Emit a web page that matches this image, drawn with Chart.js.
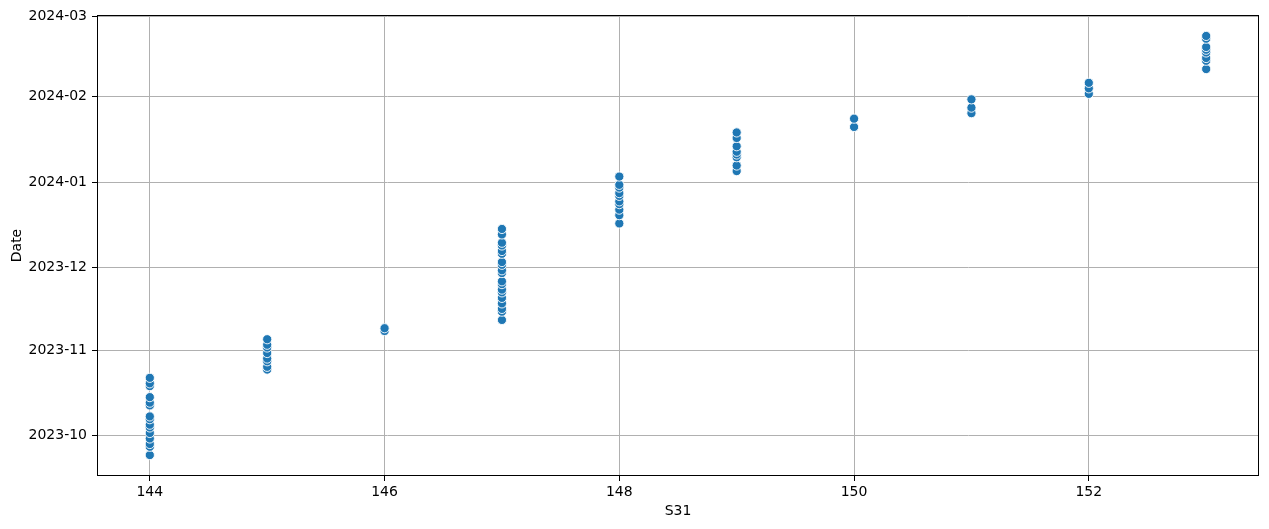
<!DOCTYPE html>
<html>
<head>
<meta charset="utf-8">
<script src="https://cdn.jsdelivr.net/npm/chart.js@4.4.1/dist/chart.umd.min.js"></script>
<style>
  html, body { margin: 0; padding: 0; background: #ffffff; }
  #wrap { width: 1269px; height: 529px; position: relative; }
</style>
</head>
<body>
<div id="wrap"><canvas id="c" width="1269" height="529"></canvas></div>
<script>
// ---- data ----
const s31Values = [
  144,144,144,144,144,144,144,144,144,144,144,144,144,144,144,
  145,145,145,145,145,145,145,145,
  146,146,
  147,147,147,147,147,147,147,147,147,147,147,147,147,147,147,147,147,147,147,
  148,148,148,148,148,148,148,148,148,148,
  149,149,149,149,149,149,149,149,
  150,150,
  151,151,151,
  152,152,152,
  153,153,153,153,153,153,153,153
];
const dateValues = [
  '2023-09-24','2023-09-27','2023-09-28','2023-09-30','2023-10-02','2023-10-04','2023-10-05','2023-10-07','2023-10-08','2023-10-12','2023-10-13','2023-10-15','2023-10-19','2023-10-20','2023-10-22',
  '2023-10-25','2023-10-26','2023-10-28','2023-10-29','2023-10-31','2023-11-02','2023-11-03','2023-11-05',
  '2023-11-08','2023-11-09',
  '2023-11-12','2023-11-15','2023-11-16','2023-11-18','2023-11-20','2023-11-22','2023-11-23','2023-11-25','2023-11-26','2023-11-29','2023-11-30','2023-12-02','2023-12-03','2023-12-06','2023-12-07','2023-12-09','2023-12-10','2023-12-13','2023-12-15',
  '2023-12-17','2023-12-20','2023-12-22','2023-12-24','2023-12-25','2023-12-27','2023-12-28','2023-12-30','2023-12-31','2024-01-03',
  '2024-01-05','2024-01-07','2024-01-10','2024-01-11','2024-01-12','2024-01-14','2024-01-17','2024-01-19',
  '2024-01-21','2024-01-24',
  '2024-01-26','2024-01-28','2024-01-31',
  '2024-02-02','2024-02-04','2024-02-06',
  '2024-02-11','2024-02-14','2024-02-15','2024-02-17','2024-02-18','2024-02-19','2024-02-22','2024-02-23'
];
const xTickValues = [144, 146, 148, 150, 152];
const yTickLabels = ['2023-10', '2023-11', '2023-12', '2024-01', '2024-02', '2024-03'];

// ---- helpers ----
const DAY = 86400000;
function toDay(s) {
  const p = s.split('-').map(Number);
  return Date.UTC(p[0], p[1] - 1, p[2] || 1) / DAY;
}
function dayToMonthLabel(v) {
  const d = new Date(Math.round(v) * DAY);
  return d.getUTCFullYear() + '-' + String(d.getUTCMonth() + 1).padStart(2, '0');
}

const points = s31Values.map((x, i) => ({ x: x, y: toDay(dateValues[i]) }));
const yTickValues = yTickLabels.map(toDay);

const xs = s31Values, ys = points.map(p => p.y);
const xMin = Math.min(...xs), xMax = Math.max(...xs);
const yMin = Math.min(...ys), yMax = Math.max(...ys);
const xm = (xMax - xMin) * 0.05, ym = (yMax - yMin) * 0.05;

const FONT = 'DejaVu Sans';

const framePlugin = {
  id: 'frame',
  afterDraw(chart) {
    const a = chart.chartArea, ctx = chart.ctx;
    ctx.save();
    ctx.strokeStyle = '#000000';
    ctx.lineWidth = 1;
    ctx.strokeRect(Math.round(a.left) + 0.5, Math.round(a.top) + 0.5,
                   Math.round(a.right - a.left) - 1, Math.round(a.bottom - a.top) - 1);
    ctx.restore();
  }
};

new Chart(document.getElementById('c'), {
  type: 'scatter',
  data: {
    datasets: [{
      data: points,
      backgroundColor: '#1f77b4',
      borderColor: '#ffffff',
      borderWidth: 0.9,
      pointRadius: 4.6,
      pointHoverRadius: 4.6
    }]
  },
  options: {
    responsive: false,
    animation: false,
    devicePixelRatio: 1,
    layout: { padding: { top: 15, right: 10, left: 0, bottom: 0 } },
    plugins: { legend: { display: false }, tooltip: { enabled: false } },
    scales: {
      x: {
        type: 'linear',
        min: xMin - xm,
        max: xMax + xm,
        afterBuildTicks(scale) { scale.ticks = xTickValues.map(v => ({ value: v })); },
        afterFit(scale) { scale.height = 53; },
        grid: { color: '#b0b0b0', lineWidth: 1, tickLength: 5, tickColor: '#000000', drawTicks: true },
        border: { display: false },
        ticks: { color: '#000000', font: { family: FONT, size: 14 }, padding: 3, maxRotation: 0,
                 callback: v => String(v) },
        title: { display: true, text: 'S31', color: '#000000', font: { family: FONT, size: 14 },
                 padding: { top: 0, bottom: 9 } }
      },
      y: {
        type: 'linear',
        min: yMin - ym,
        max: yMax + ym,
        afterBuildTicks(scale) { scale.ticks = yTickValues.map(v => ({ value: v })); },
        afterFit(scale) { scale.width = 97; },
        grid: { color: '#b0b0b0', lineWidth: 1, tickLength: 5, tickColor: '#000000', drawTicks: true },
        border: { display: false },
        ticks: { color: '#000000', font: { family: FONT, size: 14 }, padding: 5,
                 callback: v => dayToMonthLabel(v) },
        title: { display: true, text: 'Date', color: '#000000', font: { family: FONT, size: 14 },
                 padding: { top: 9, bottom: 0 } }
      }
    }
  },
  plugins: [framePlugin]
});
</script>
</body>
</html>
